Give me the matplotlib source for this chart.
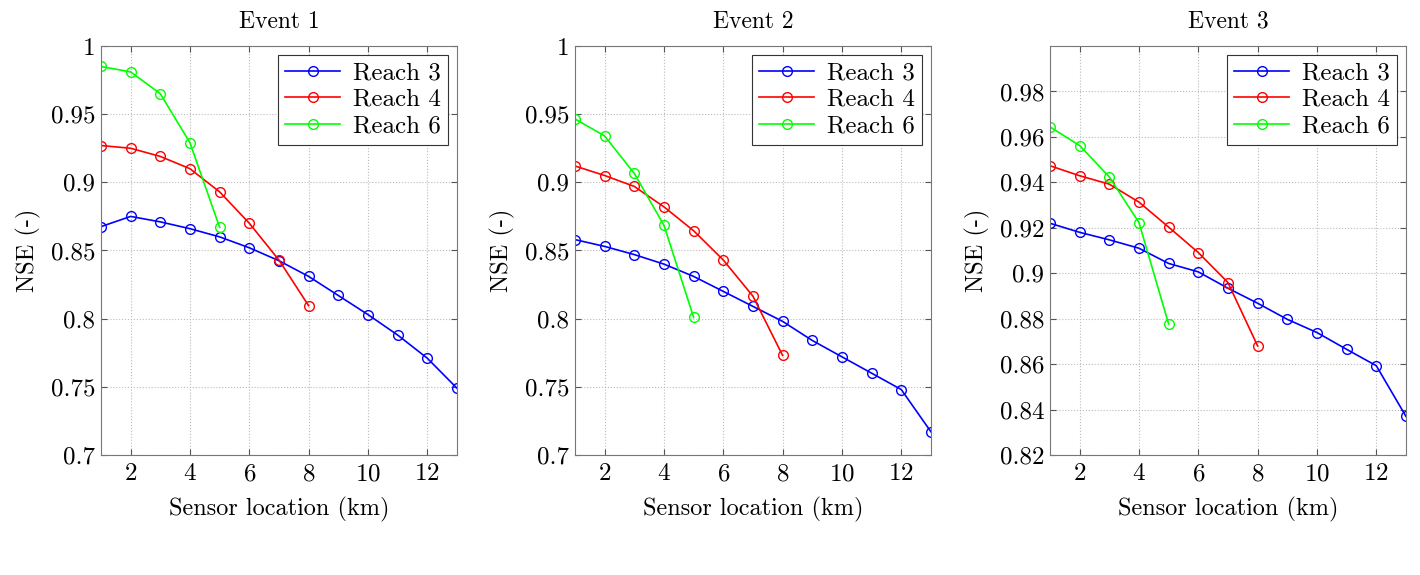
import numpy as np
import matplotlib
matplotlib.use('Agg')
import matplotlib.pyplot as plt
from matplotlib.ticker import FuncFormatter

plt.rcParams['font.family'] = ['cmr10', 'DejaVu Serif']
plt.rcParams['axes.formatter.use_mathtext'] = True
plt.rcParams['axes.unicode_minus'] = False

# sensor location (km)
x3 = np.arange(1, 14)
x4 = np.arange(1, 9)
x6 = np.arange(1, 6)

# NSE values per event and reach
ev1_r3 = [0.8675, 0.875, 0.871, 0.866, 0.860, 0.852, 0.8425, 0.831, 0.817, 0.803, 0.788, 0.771, 0.749]
ev1_r4 = [0.927, 0.925, 0.919, 0.910, 0.893, 0.870, 0.843, 0.8095]
ev1_r6 = [0.985, 0.981, 0.965, 0.929, 0.867]

ev2_r3 = [0.858, 0.853, 0.847, 0.840, 0.831, 0.820, 0.809, 0.798, 0.784, 0.772, 0.760, 0.748, 0.717]
ev2_r4 = [0.912, 0.905, 0.897, 0.882, 0.8645, 0.843, 0.8165, 0.773]
ev2_r6 = [0.9465, 0.934, 0.9065, 0.8685, 0.801]

ev3_r3 = [0.922, 0.918, 0.9147, 0.911, 0.9043, 0.9006, 0.8934, 0.8868, 0.8797, 0.8739, 0.8665, 0.8593, 0.837]
ev3_r4 = [0.9473, 0.9429, 0.9392, 0.9313, 0.9203, 0.9091, 0.8959, 0.868]
ev3_r6 = [0.9644, 0.9562, 0.9424, 0.9223, 0.8777]

titles = ['Event 1', 'Event 2', 'Event 3']
events = [(ev1_r3, ev1_r4, ev1_r6), (ev2_r3, ev2_r4, ev2_r6), (ev3_r3, ev3_r4, ev3_r6)]
ylims = [(0.7, 1.0), (0.7, 1.0), (0.82, 1.0)]
yticks = [np.arange(0.7, 1.001, 0.05), np.arange(0.7, 1.001, 0.05), np.arange(0.82, 0.981, 0.02)]
lefts = [0.0711, 0.4049, 0.7394]

fig = plt.figure(figsize=(14.2, 5.75), dpi=100)

for i in range(3):
    ax = fig.add_axes([lefts[i], 0.2087, 0.2507, 0.7113])
    r3, r4, r6 = events[i]
    ax.plot(x3, r3, '-o', color='b', mfc='none', ms=7, lw=1.2, label='Reach 3')
    ax.plot(x4, r4, '-o', color='r', mfc='none', ms=7, lw=1.2, label='Reach 4')
    ax.plot(x6, r6, '-o', color='#00ff00', mfc='none', ms=7, lw=1.2, label='Reach 6')

    ax.set_xlim(1, 13)
    ax.set_ylim(*ylims[i])
    ax.set_xticks([2, 4, 6, 8, 10, 12])
    ax.set_yticks(yticks[i])
    ax.yaxis.set_major_formatter(FuncFormatter(lambda v, p: '%g' % round(v, 3)))
    ax.tick_params(direction='in', top=True, right=True, labelsize=18, length=4, color='#555555')
    ax.tick_params(axis='x', pad=6)
    ax.tick_params(axis='y', pad=4)
    ax.grid(True, linestyle=':', color='#bbbbbb', lw=0.8)
    for s in ax.spines.values():
        s.set_color('#777777')
    ax.set_title(titles[i], fontsize=17, pad=13)
    ax.set_xlabel('Sensor location (km)', fontsize=17.5, labelpad=8)
    ax.set_ylabel('NSE (-)', fontsize=17.5, labelpad=7)
    leg = ax.legend(loc='upper right', fontsize=18, fancybox=False, edgecolor='#333333',
                    framealpha=1, borderaxespad=0.35, handlelength=2.2, labelspacing=0.15,
                    borderpad=0.3, handletextpad=0.5)
    leg.get_frame().set_linewidth(0.8)

fig.savefig('out.png', dpi=100)
